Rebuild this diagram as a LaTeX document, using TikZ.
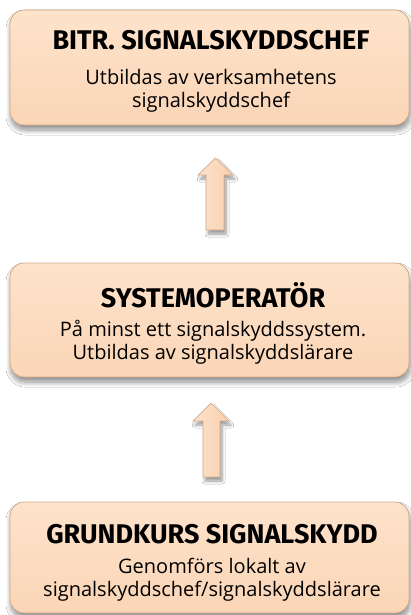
\documentclass[tikz,border=0pt]{standalone}
\usepackage{fontspec}
\setmainfont{Open Sans}
\newfontfamily\titlefont{Fira Sans}
\usetikzlibrary{shadows.blur}
\definecolor{peachtop}{HTML}{FDE3CB}
\definecolor{peachbot}{HTML}{FBD5B6}
\definecolor{peachline}{HTML}{D3A988}
\definecolor{arrowfill}{HTML}{F9CFAE}
\tikzset{
  box/.style={draw=peachline, line width=0.8pt, rounded corners=14pt,
    top color=peachtop, bottom color=peachbot, inner sep=0pt,
    minimum width=399pt,
    blur shadow={shadow xshift=1pt, shadow yshift=-5pt, shadow blur radius=5pt,
      shadow blur steps=10, shadow opacity=45}},
  title/.style={font=\titlefont\bfseries\fontsize{27}{30}\selectfont, anchor=base, inner sep=0pt},
  sub/.style={font=\fontsize{20}{23}\selectfont, align=center, anchor=base, inner sep=0pt},
  blockarrow/.style={draw=peachline, line width=0.7pt, left color=peachtop, right color=arrowfill,
    blur shadow={shadow xshift=2pt, shadow yshift=-4pt, shadow blur radius=3pt,
      shadow blur steps=8, shadow opacity=40}}
}
\begin{document}
\begin{tikzpicture}[x=1pt,y=-1pt]
\useasboundingbox (0,0) rectangle (411,615);
\fill[white] (0,0) rectangle (411,615);
% boxes
\node[box, minimum height=115pt] (b1) at (209.5,67.5) {};
\node[box, minimum height=114pt] (b2) at (209.5,320) {};
\node[box, minimum height=111pt] (b3) at (209.5,557.5) {};
% texts (sub anchors at the baseline of the last line)
\node[title] (t1) at (211,50) {BITR. SIGNALSKYDDSCHEF};
\node[sub] (s1) at (211,107) {Utbildas av verksamhetens\\signalskyddschef};
\node[title] (t2) at (213,307) {SYSTEMOPERATÖR};
\node[sub] (s2) at (213,359) {På minst ett signalskyddssystem.\\Utbildas av signalskyddslärare};
\node[title] (t3) at (212,543) {GRUNDKURS SIGNALSKYDD};
\node[sub] (s3) at (212,596) {Genomförs lokalt av\\signalskyddschef/signalskyddslärare};
% block arrows
\path[blockarrow] (206,230) -- (206,175) -- (198,175) -- (215.5,158) -- (233,175) -- (224,175) -- (224,230) -- cycle;
\path[blockarrow] (203,477) -- (203,421) -- (193,421) -- (211,403) -- (229,421) -- (220,421) -- (220,477) -- cycle;
\end{tikzpicture}
\end{document}
